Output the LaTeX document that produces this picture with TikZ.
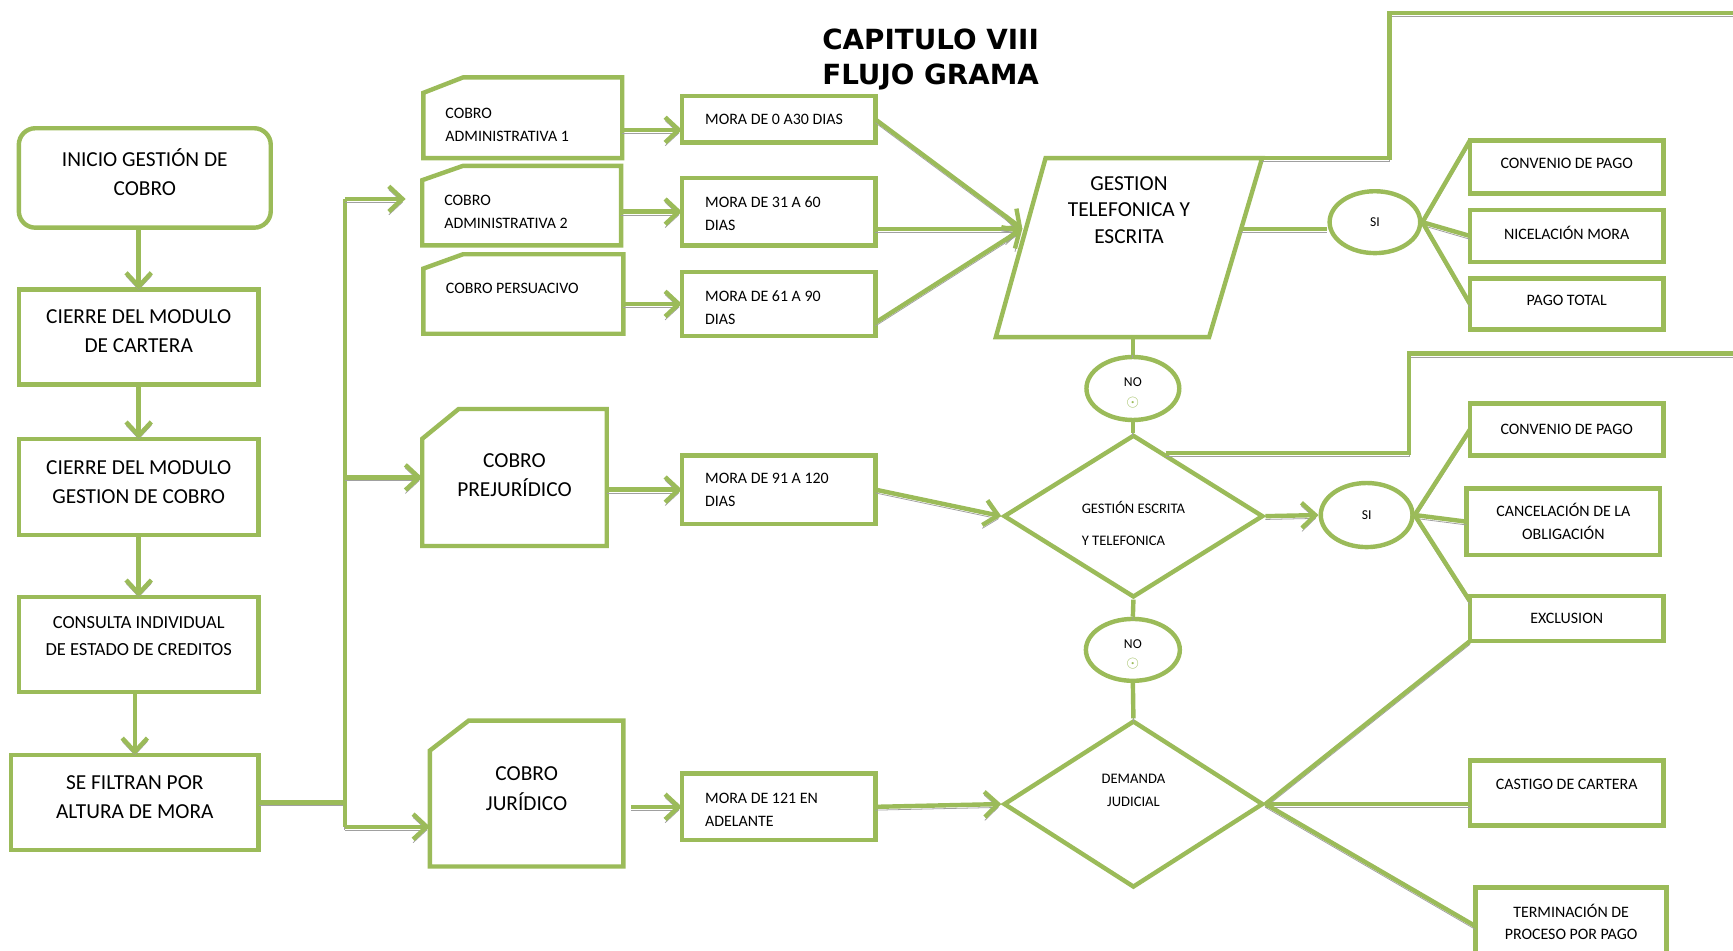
\documentclass[tikz,border=0pt]{standalone}
\usepackage{fontspec}
\setmainfont{Carlito}
\newfontfamily\titlefont{DejaVu Sans}
\usetikzlibrary{arrows.meta,shapes.geometric,calc}
\definecolor{leaf}{HTML}{9BBB59}
\definecolor{shade}{HTML}{A0A0A0}
\newcommand\txtup[1]{\rule[-#1]{0pt}{#1}}
\newcommand\txtdn[1]{\rule{0pt}{#1}}
\begin{document}
\begin{tikzpicture}[x=0.02cm, y=-0.02cm,
    line/.style={draw=leaf, line width=0.08cm},
    big/.style={font=\fontsize{11}{15}\selectfont},
    small/.style={font=\fontsize{8.2}{11.7}\selectfont},
    box/.style={line, rectangle, inner sep=0pt, outer sep=0pt, align=center, big},
    mora/.style={box, small, align=flush left, text width=2.66cm, inner xsep=0.42cm, minimum width=3.5cm},
    cut/.style={rectangle, inner sep=0pt, outer sep=0pt, align=flush left, small, text width=2.8cm, inner xsep=0.4cm},
    bigcut/.style={rectangle, inner sep=0pt, outer sep=0pt, align=center, big},
    opt/.style={box, small, minimum width=3.5cm},
    oval/.style={line, ellipse, inner sep=0pt, align=center, font=\fontsize{7}{10}\selectfont},
    rhomb/.style={line, diamond, inner sep=0pt, minimum width=4.7cm},
    link/.style={line, preaction={draw=shade, transform canvas={yshift=-1.7pt}}},
    arrow/.style={link, -{Straight Barb[length=7pt,width=13pt]}}]
\useasboundingbox (0,0) rectangle (1568,860);

\node[align=center, font=\titlefont\bfseries\fontsize{14.3}{18.2}\selectfont] (title) at (842,54) {CAPITULO VIII\\FLUJO GRAMA};

\node[box, rounded corners=0.3cm, minimum width=4.56cm, minimum height=1.8cm] (inicio) at (131,161) {INICIO GESTIÓN DE\\COBRO\txtup{5.7pt}};
\node[box, minimum width=4.34cm, minimum height=1.72cm] (cierre1) at (125.5,305) {CIERRE DEL MODULO\\DE CARTERA\txtup{6pt}};
\node[box, minimum width=4.34cm, minimum height=1.74cm] (cierre2) at (125.5,440.5) {CIERRE DEL MODULO\\GESTION DE COBRO\txtup{5pt}};
\node[box, font=\fontsize{9.5}{13.7}\selectfont, minimum width=4.34cm, minimum height=1.72cm] (consulta) at (125.5,583) {CONSULTA INDIVIDUAL\\DE ESTADO DE CREDITOS\txtup{8.5pt}};
\node[box, minimum width=4.48cm, minimum height=1.72cm] (filtran) at (122,726) {SE FILTRAN POR\\ALTURA DE MORA\txtup{5.7pt}};

\draw[arrow] (cierre1.north |- inicio.south) -- (cierre1.north);
\draw[arrow] (cierre1) -- (cierre2);
\draw[arrow] (cierre2) -- (consulta);
\draw[arrow] (consulta.south -| filtran.north) -- (filtran.north);

\node[cut, minimum width=3.6cm, minimum height=1.46cm] (adm1) at (473,106.5) {\txtdn{12.7pt}COBRO\\ADMINISTRATIVA 1};
\node[cut, minimum width=3.6cm, minimum height=1.44cm] (adm2) at (472,186) {\txtdn{11.6pt}COBRO\\ADMINISTRATIVA 2};
\node[cut, minimum width=3.62cm, minimum height=1.44cm] (pers) at (473.5,266) {COBRO PERSUACIVO\txtup{5.7pt}};
\node[bigcut, minimum width=3.34cm, minimum height=2.48cm] (prej) at (465.5,432) {COBRO\\PREJURÍDICO\txtup{2.8pt}};
\node[bigcut, minimum width=3.5cm, minimum height=2.64cm] (jur) at (476.5,718) {COBRO\\JURÍDICO\txtup{5.1pt}};
\foreach \n/\dx/\dy in {adm1/36/14, adm2/37/13, pers/36/13, prej/33/27, jur/35/27}
  \draw[line] ($(\n.north west)+(0,\dy)$) -- ($(\n.north west)+(\dx,0)$) -- (\n.north east) -- (\n.south east) -- (\n.south west) -- cycle;

\coordinate (t1) at (312,180);
\coordinate (t2) at (312,748);
\draw[link] (filtran.east) -- (filtran.east -| t1);
\draw[link] (t1) -- (t2);
\draw[arrow, shorten >=0.3cm] (t1) -- (t1 -| adm2.west);
\draw[arrow] (t1 |- prej.west) -- (prej.west);
\draw[arrow] (t2) -- (t2 -| jur.west);

\node[mora, minimum height=0.84cm] (mora0) at (704.5,108) {MORA DE 0 A30 DIAS};
\node[mora, minimum height=1.22cm] (mora31) at (704.5,191.5) {\txtdn{7.6pt}MORA DE 31 A 60\\DIAS};
\node[mora, minimum height=1.16cm] (mora61) at (704.5,275) {\txtdn{9.3pt}MORA DE 61 A 90\\DIAS};
\node[mora, minimum height=1.24cm] (mora91) at (704.5,443) {MORA DE 91 A 120\\DIAS};
\node[mora, minimum height=1.2cm] (mora121) at (704.5,730) {\txtdn{8.7pt}MORA DE 121 EN\\ADELANTE};

\draw[arrow] ($(adm1.east)+(0,11)$) -- ($(mora0.west)+(0,9.5)$);
\draw[arrow] (adm2.east |- mora31.west) -- (mora31.west);
\draw[arrow] (pers.east |- mora61.west) -- (mora61.west);
\draw[arrow] (prej.east |- mora91.west) -- (mora91.west);
\draw[arrow, shorten <=0.14cm] (jur.east |- mora121.west) -- (mora121.west);

\node[rectangle, inner sep=0pt, outer sep=0pt, align=center, font=\fontsize{11}{13.7}\selectfont,
      minimum width=4.82cm, minimum height=3.24cm] (gest) at (1021.5,224) {GESTION\\TELEFONICA Y\\ESCRITA\txtup{38.7pt}};
\draw[line] ($(gest.north west)+(45,0)$) -- (gest.north east) -- ($(gest.south east)+(-48,0)$) -- (gest.south west) -- cycle;
\coordinate (gin) at ($(gest.west)+(24,-17)$);
\coordinate (gout) at ($(gest.east)+(-19,-17)$);

\draw[arrow] (mora0.east) -- (gin);
\draw[arrow] (mora31.east |- gin) -- (gin);
\draw[arrow] ($(mora61.east)+(0,17)$) -- (gin);

\node[oval, minimum width=1.64cm, minimum height=1.12cm] (si1) at (1244,201) {SI};
\node[opt, minimum height=0.96cm] (conv1) at (1417.5,151) {CONVENIO DE PAGO\txtup{3.4pt}};
\node[opt, minimum height=0.94cm] (nic) at (1417.5,213.5) {NICELACIÓN MORA\txtup{3.4pt}};
\node[opt, minimum height=0.92cm] (pago) at (1417.5,275) {PAGO TOTAL\txtup{3.4pt}};

\coordinate (e1) at (1257,12);
\coordinate (e2) at (1568,12);
\draw[link] (gest.north east) -| (e1) -- (e2);
\draw[link] (gout) -- (gout -| si1.west);
\draw[link] (si1.east) -- (conv1.north west);
\draw[link] (si1.east) -- (nic.west);
\draw[link] (si1.east) -- (pago.west);

\node[oval, minimum width=1.68cm, minimum height=1.14cm] (no1) at (1025,351.5) {\txtdn{9pt}NO\\\textcolor{leaf}{\fontsize{8}{8}\selectfont$\odot$}};
\node[rhomb, minimum height=2.8cm, align=flush left, font=\fontsize{7.5}{16.5}\selectfont] (dia1) at (1025.5,467) {\txtdn{14pt}GESTIÓN ESCRITA\\Y TELEFONICA};
\node[oval, minimum width=1.66cm, minimum height=1.16cm] (si2) at (1236.5,466) {SI};
\node[opt, minimum height=0.94cm] (conv2) at (1417.5,388.5) {CONVENIO DE PAGO};
\node[opt, minimum height=1.2cm] (canc) at (1414.5,472) {CANCELACIÓN DE LA\\OBLIGACIÓN};
\node[opt, minimum height=0.82cm] (excl) at (1417.5,559.5) {EXCLUSION};

\draw[link] (gest.south -| no1.north) -- (no1.north);
\draw[link] (no1.south) -- (no1.south |- dia1.north);
\coordinate (e3) at (1275,320);
\coordinate (e4) at (1568,320);
\draw[link] (dia1.63) -| (e3) -- (e4);
\draw[arrow] (mora91.east) -- (dia1.west);
\draw[arrow] (dia1.east) -- (si2.west);
\draw[link] (si2.east) -- (conv2.west);
\draw[link] (si2.east) -- (canc.west);
\draw[link] (si2.east) -- ($(excl.north west)+(0,5)$);

\node[oval, minimum width=1.7cm, minimum height=1.12cm] (no2) at (1025,588) {\txtdn{9pt}NO\\\textcolor{leaf}{\fontsize{8}{8}\selectfont$\odot$}};
\node[rhomb, minimum height=3.02cm, align=center, font=\fontsize{7.5}{11.4}\selectfont] (dia2) at (1025.5,727.5) {DEMANDA\\JUDICIAL\txtup{14.2pt}};
\node[opt, minimum height=1.18cm] (cast) at (1417.5,717.5) {CASTIGO DE CARTERA\txtup{9.1pt}};
\node[opt, minimum width=3.46cm, minimum height=1.4cm] (term) at (1421.5,838) {TERMINACIÓN DE\\PROCESO POR PAGO\txtup{4.6pt}};

\draw[link] (dia1.south) -- (no2.north);
\draw[link] (no2.south) -- (dia2.north);
\draw[arrow] (mora121.east) -- (dia2.west);
\draw[link] (dia2.east) -- (excl.south west);
\draw[link] (dia2.east) -- (dia2.east -| cast.west);
\draw[link] (dia2.east) -- (term.west);
\end{tikzpicture}
\end{document}
